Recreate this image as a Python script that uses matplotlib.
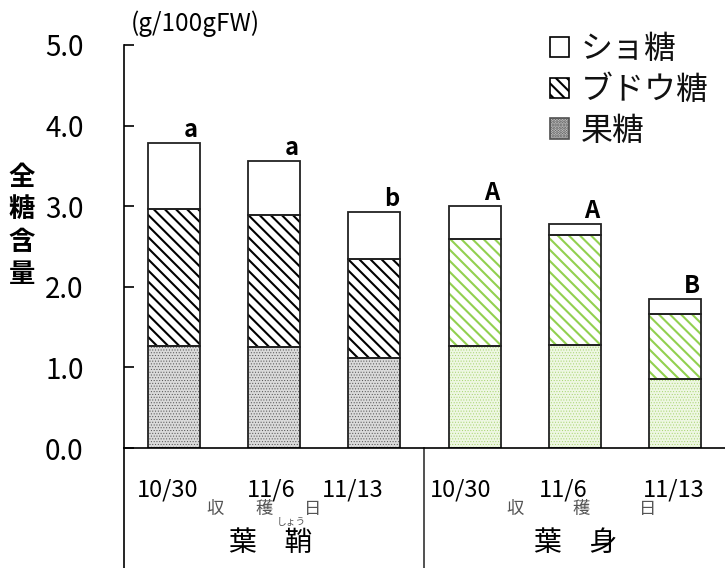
import numpy as np
import matplotlib
matplotlib.use("Agg")
from matplotlib import pyplot as plt
from matplotlib.patches import Rectangle
from matplotlib.lines import Line2D
import matplotlib.transforms as mtrans

plt.rcParams['font.family'] = ['Noto Sans CJK JP', 'DejaVu Sans']
plt.rcParams['hatch.linewidth'] = 1.5

# values (g/100gFW)
dates = ['10/30', '11/6', '11/13', '10/30', '11/6', '11/13']
fructose = [1.27, 1.25, 1.12, 1.26, 1.28, 0.85]
glucose = [1.69, 1.64, 1.23, 1.33, 1.36, 0.81]
sucrose = [0.83, 0.67, 0.58, 0.41, 0.14, 0.19]
letters = ['a', 'a', 'b', 'A', 'A', 'B']
groups = ['葉　鞘', '葉　身']

green = '#92d050'
x = np.arange(len(dates))
w = 0.52

fig = plt.figure(figsize=(7.25, 5.68), dpi=100)
ax = fig.add_axes([124/725, 120/568, 1 - 124/725, 403/568])

def hatch_lw(bars, lw):
    for b in bars:
        if hasattr(b, 'set_hatch_linewidth'):
            b.set_hatch_linewidth(lw)

col_line = ['black'] * 3 + [green] * 3
col_dot = ['#505050'] * 3 + ['#a6d46e'] * 3
face_dot = ['#dadada'] * 3 + ['#eef7e2'] * 3

for i in range(len(x)):
    # fructose - stipple
    b = ax.bar(x[i], fructose[i], w, bottom=0, color=face_dot[i],
               hatch='......', edgecolor=col_dot[i], linewidth=0)
    hatch_lw(b, 0.4)
    # glucose - diagonal stripes
    b = ax.bar(x[i], glucose[i], w, bottom=fructose[i], color='white',
               hatch='\\\\\\', edgecolor=col_line[i], linewidth=0)
    hatch_lw(b, 1.5)
    # sucrose - white
    ax.bar(x[i], sucrose[i], w, bottom=fructose[i] + glucose[i], color='white',
           edgecolor='none', linewidth=0)

# outlines
ax.bar(x, fructose, w, fill=False, edgecolor='#222222', linewidth=1.3)
ax.bar(x, glucose, w, bottom=fructose, fill=False, edgecolor='#222222', linewidth=1.3)
ax.bar(x, sucrose, w, bottom=np.array(fructose) + np.array(glucose), fill=False,
       edgecolor='#222222', linewidth=1.3)

total = np.array(fructose) + np.array(glucose) + np.array(sucrose)
for i in range(len(x)):
    ax.text(x[i] + 0.17, total[i] + 0.01, letters[i], ha='center', va='bottom',
            fontsize=17, fontweight='bold')

ax.set_xlim(-0.5, 5.5)
ax.set_ylim(0, 5.0)
ax.set_yticks(np.arange(0, 5.01, 1.0))
ax.set_yticklabels(['%.1f' % v for v in np.arange(0, 5.01, 1.0)], fontsize=20)
ax.tick_params(axis='y', direction='in', length=7, width=1.2, pad=29)
ax.set_xticks([])
for s in ['top', 'right']:
    ax.spines[s].set_visible(False)
ax.spines['left'].set_linewidth(1.2)
ax.spines['bottom'].set_linewidth(1.2)

# lines of the label box under the axis
fig.add_artist(Line2D([124/725, 124/725], [0, 120/568], color='black', lw=1.2))
xt = mtrans.blended_transform_factory(ax.transData, fig.transFigure)
ax.add_line(Line2D([2.5, 2.5], [0, 120/568], transform=xt, color='#333333',
                   lw=1.2, clip_on=False))

date_off = [-0.06, -0.03, -0.22, -0.14, -0.12, -0.01]
for i in range(len(x)):
    ax.text(x[i] + date_off[i], 1 - 490/568, dates[i], transform=xt,
            ha='center', va='center', fontsize=17)

gray = '#555555'
for xx, ch in zip([0.41, 0.90, 1.38], ['収', '穫', '日']):
    ax.text(xx, 1 - 509/568, ch, transform=xt, ha='center', va='center',
            fontsize=12.5, color=gray)
ax.text(1.17, 1 - 522/568, 'しょう', transform=xt, ha='center', va='center',
        fontsize=7, color=gray)
for xx, ch in zip([3.40, 4.06, 4.73], ['収', '穫', '日']):
    ax.text(xx, 1 - 509/568, ch, transform=xt, ha='center', va='center',
            fontsize=12.5, color=gray)

ax.text(0.96, 1 - 543/568, groups[0], transform=xt, ha='center', va='center', fontsize=20)
ax.text(4.01, 1 - 543/568, groups[1], transform=xt, ha='center', va='center', fontsize=20)

# y label and unit
fig.text(22/725, 1 - 226/568, '\n'.join('全糖含量'), ha='center', va='center',
         fontsize=19, fontweight='bold', linespacing=1.25)
fig.text(195/725, 1 - 24/568, '(g/100gFW)', ha='center', va='center', fontsize=17.5)

# legend
h1 = Rectangle((0, 0), 1, 1, facecolor='white', edgecolor='black', lw=1.2)
h2 = Rectangle((0, 0), 1, 1, facecolor='white', edgecolor='black', lw=1.2, hatch='\\\\\\')
h3 = Rectangle((0, 0), 1, 1, facecolor='#dadada', edgecolor='#505050', lw=1.2, hatch='......')
leg = ax.legend([h1, h2, h3], ['ショ糖', 'ブドウ糖', '果糖'], loc='upper left',
                bbox_to_anchor=(550/725, 1 - 33/568), bbox_transform=fig.transFigure,
                frameon=False, fontsize=23, handlelength=0.6, handleheight=0.6,
                handletextpad=0.35, labelspacing=0.28, borderaxespad=0, borderpad=0)
for t in leg.get_texts():
    t.set_color('#111111')

fig.savefig('out.png', dpi=100)
